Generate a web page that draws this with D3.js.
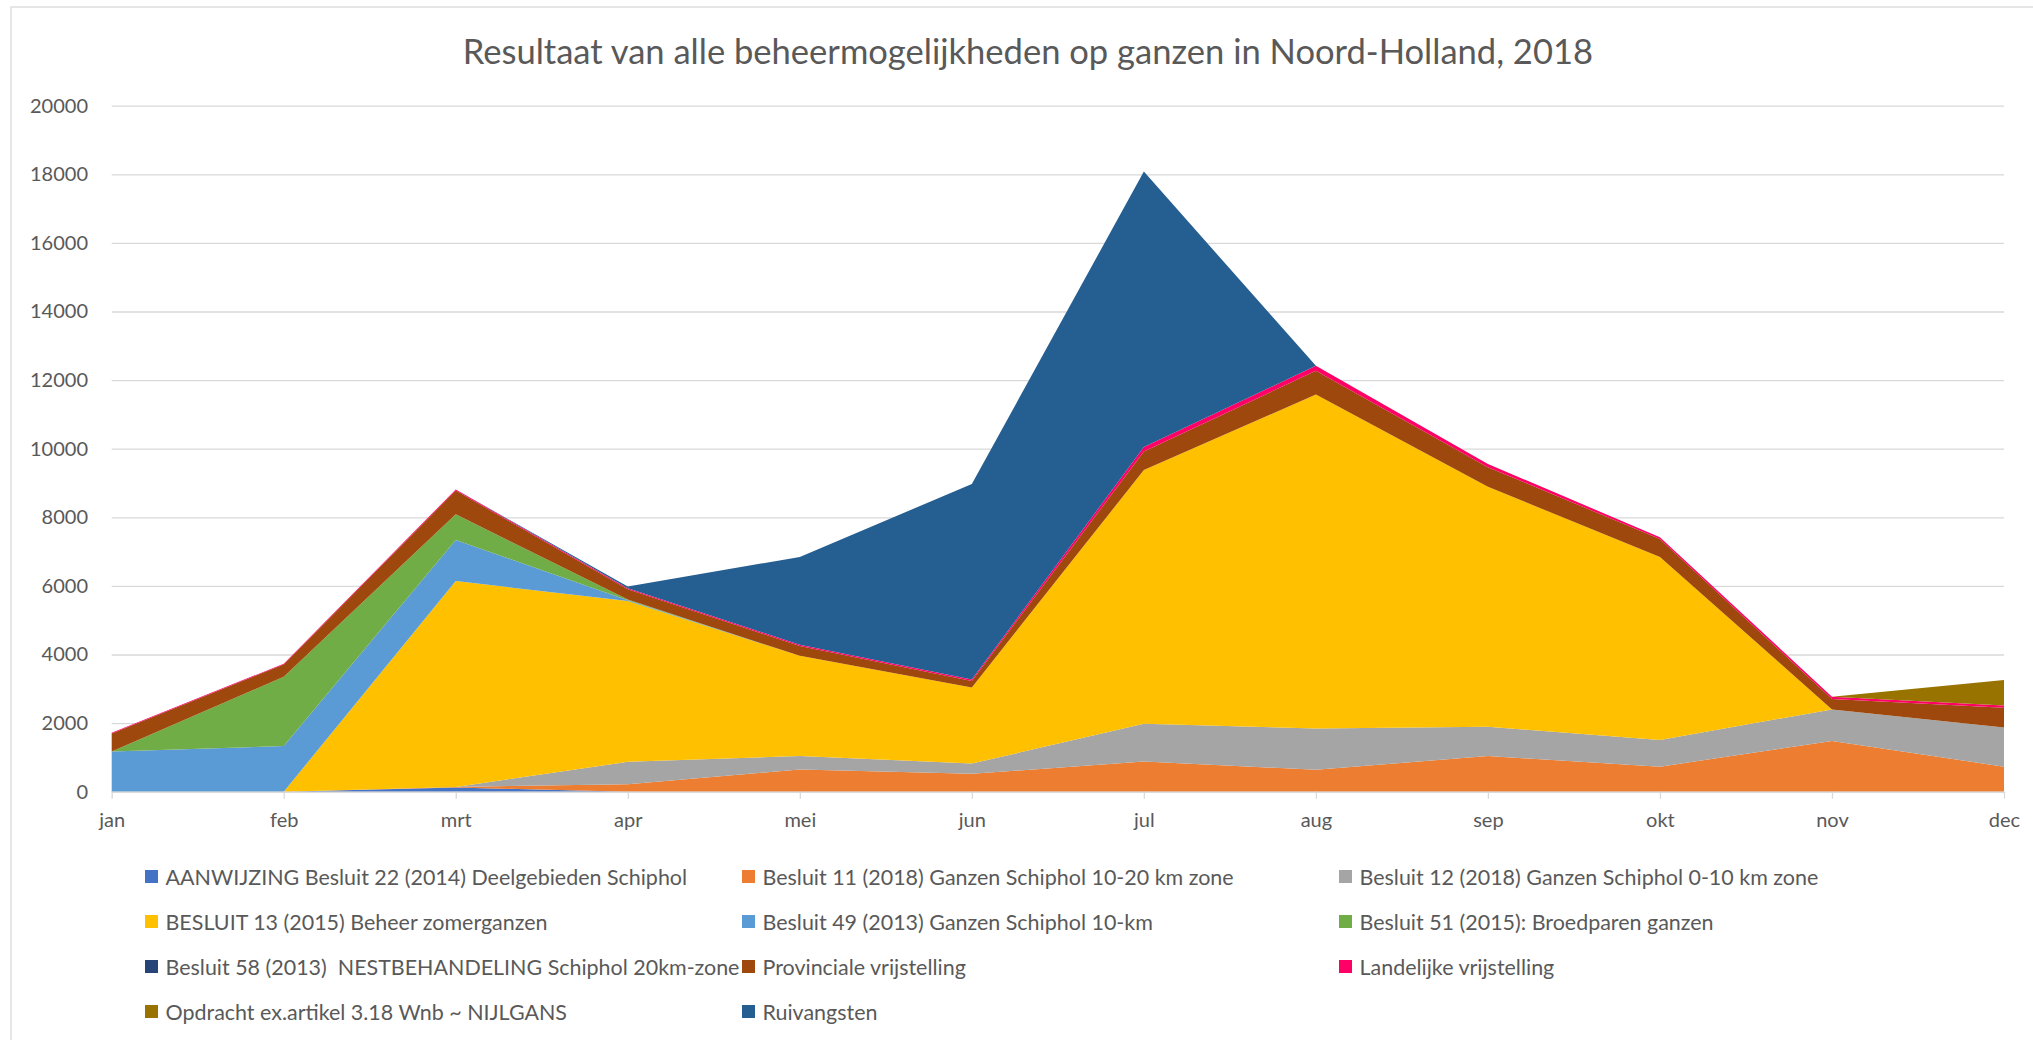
<!DOCTYPE html>
<html>
<head>
<meta charset="utf-8">
<script src="https://cdn.jsdelivr.net/npm/d3@7/dist/d3.min.js"></script>
<style>
  body { margin: 0; background: #fff; overflow: hidden; }
  svg text { font-family: Lato, "Open Sans", sans-serif; fill: #595959; white-space: pre; }
</style>
</head>
<body>
<div id="mainDiv"></div>
<script>
'use strict';

// categorieën en ticks
var months = ['jan', 'feb', 'mrt', 'apr', 'mei', 'jun', 'jul', 'aug', 'sep', 'okt', 'nov', 'dec'];
var yTicks = [0, 2000, 4000, 6000, 8000, 10000, 12000, 14000, 16000, 18000, 20000];

var seriesNames = [
    'AANWIJZING Besluit 22 (2014) Deelgebieden Schiphol',
    'Besluit 11 (2018) Ganzen Schiphol 10-20 km zone',
    'Besluit 12 (2018) Ganzen Schiphol 0-10 km zone',
    'BESLUIT 13 (2015) Beheer zomerganzen',
    'Besluit 49 (2013) Ganzen Schiphol 10-km',
    'Besluit 51 (2015): Broedparen ganzen',
    'Besluit 58 (2013)  NESTBEHANDELING Schiphol 20km-zone',
    'Provinciale vrijstelling',
    'Landelijke vrijstelling',
    'Opdracht ex.artikel 3.18 Wnb ~ NIJLGANS',
    'Ruivangsten'
];
var seriesColors = ['#4472C4', '#ED7D31', '#A5A5A5', '#FFC000', '#5B9BD5', '#70AD47',
                    '#264478', '#9E480E', '#FF0066', '#997300', '#255E91'];

// waarden per maand (jan..dec)
var aanwijzing22 = [0, 0, 120, 0, 0, 0, 0, 0, 0, 0, 0, 0];
var besluit11    = [0, 0, 20, 220, 650, 520, 880, 640, 1040, 730, 1480, 730];
var besluit12    = [0, 0, 0, 650, 390, 300, 1100, 1200, 850, 780, 920, 1140];
var besluit13    = [0, 0, 6000, 4690, 2920, 2220, 7400, 9740, 7000, 5330, 0, 0];
var besluit49    = [1170, 1330, 1200, 20, 0, 0, 0, 0, 0, 0, 0, 0];
var besluit51    = [0, 2020, 750, 20, 0, 0, 0, 0, 0, 0, 0, 0];
var besluit58    = [0, 0, 0, 0, 0, 0, 0, 0, 0, 0, 0, 0];
var provinciaal  = [530, 360, 690, 300, 290, 190, 540, 690, 570, 530, 300, 580];
var landelijk    = [20, 20, 30, 30, 35, 40, 130, 145, 95, 50, 65, 60];
var opdracht     = [0, 0, 0, 0, 0, 0, 0, 0, 0, 0, 0, 750];
var ruivangsten  = [0, 0, 0, 50, 2560, 5700, 8030, 0, 0, 0, 0, 0];

var seriesValues = [aanwijzing22, besluit11, besluit12, besluit13, besluit49, besluit51,
                    besluit58, provinciaal, landelijk, opdracht, ruivangsten];

var chart = {};

chart.W = 2033;
chart.H = 1040;
chart.plot = {left: 111.7, right: 2004, top: 105.7, bottom: 791.7};
chart.gridColor = '#d9d9d9';

chart.appendSvg = function(div)
{
    return d3.select(div).append('svg')
        .attr('width', chart.W)
        .attr('height', chart.H);
}

// lettergrootte zo kiezen dat tekst een bepaalde breedte krijgt
chart.fitFont = function(sel, target, base)
{
    sel.style('font-size', base + 'px');
    var w = sel.node().getComputedTextLength();
    var size = base * target / w;
    sel.style('font-size', size + 'px');
    return size;
}

chart.run = function()
{
    var svg = chart.appendSvg('#mainDiv');
    var p = chart.plot;

    // kader
    svg.append('rect')
        .attr('x', 11).attr('y', 7)
        .attr('width', chart.W + 20).attr('height', chart.H + 20)
        .attr('fill', 'none')
        .attr('stroke', chart.gridColor)
        .attr('stroke-width', 1.3);

    var xScale = d3.scalePoint().domain(months).range([p.left, p.right]);
    var yScale = d3.scaleLinear().domain([0, 20000]).range([p.bottom, p.top]);

    // rasterlijnen + y-labels
    var yAxis = svg.append('g')
        .attr('transform', 'translate(' + p.left + ',0)')
        .call(d3.axisLeft(yScale).tickValues(yTicks).tickFormat(d3.format('d'))
            .tickSize(-(p.right - p.left)).tickPadding(23.7));
    yAxis.select('.domain').remove();
    yAxis.selectAll('line').attr('stroke', chart.gridColor).attr('stroke-width', 1.3);
    yAxis.selectAll('text').style('font-size', '20px').attr('fill', '#595959');

    // gestapelde vlakken
    var table = months.map(function(m, i) {
        var row = {month: m};
        seriesNames.forEach(function(n, k) { row[n] = seriesValues[k][i]; });
        return row;
    });
    var stack = d3.stack().keys(seriesNames)(table);

    var area = d3.area()
        .x(function(d) { return xScale(d.data.month); })
        .y0(function(d) { return yScale(d[0]); })
        .y1(function(d) { return yScale(d[1]); });

    svg.append('g').selectAll('path')
        .data(stack)
        .enter()
        .append('path')
        .attr('fill', function(d, i) { return seriesColors[i]; })
        .attr('d', area);

    // x-as
    var xAxis = svg.append('g')
        .attr('transform', 'translate(0,' + p.bottom + ')')
        .call(d3.axisBottom(xScale).tickSize(7).tickSizeOuter(0).tickPadding(14));
    xAxis.select('.domain').attr('stroke', chart.gridColor).attr('stroke-width', 1.3);
    xAxis.selectAll('line').attr('stroke', chart.gridColor).attr('stroke-width', 1.3);
    xAxis.selectAll('text').style('font-size', '20px').attr('fill', '#595959');

    // titel
    var title = svg.append('text')
        .attr('x', (p.left + p.right) / 2 - 30)
        .attr('y', 52)
        .attr('dy', '0.35em')
        .attr('text-anchor', 'middle')
        .text('Resultaat van alle beheermogelijkheden op ganzen in Noord-Holland, 2018');
    chart.fitFont(title, 1131, 28);

    // legenda
    var colX = [145, 742, 1339];
    var rowY = [877, 922, 967, 1012];
    var leg = svg.append('g').selectAll('g')
        .data(seriesNames)
        .enter()
        .append('g')
        .attr('transform', function(d, i) {
            return 'translate(' + colX[i % 3] + ',' + rowY[Math.floor(i / 3)] + ')';
        });

    leg.append('rect')
        .attr('x', 0).attr('y', -7)
        .attr('width', 13).attr('height', 13)
        .attr('fill', function(d, i) { return seriesColors[i]; });

    var labels = leg.append('text')
        .attr('x', 20.5)
        .attr('dy', '0.35em')
        .text(function(d) { return d; });

    var size = chart.fitFont(d3.select(labels.node()), 522, 20);
    labels.style('font-size', size + 'px');
}

window.onload = chart.run;
</script>
</body>
</html>
